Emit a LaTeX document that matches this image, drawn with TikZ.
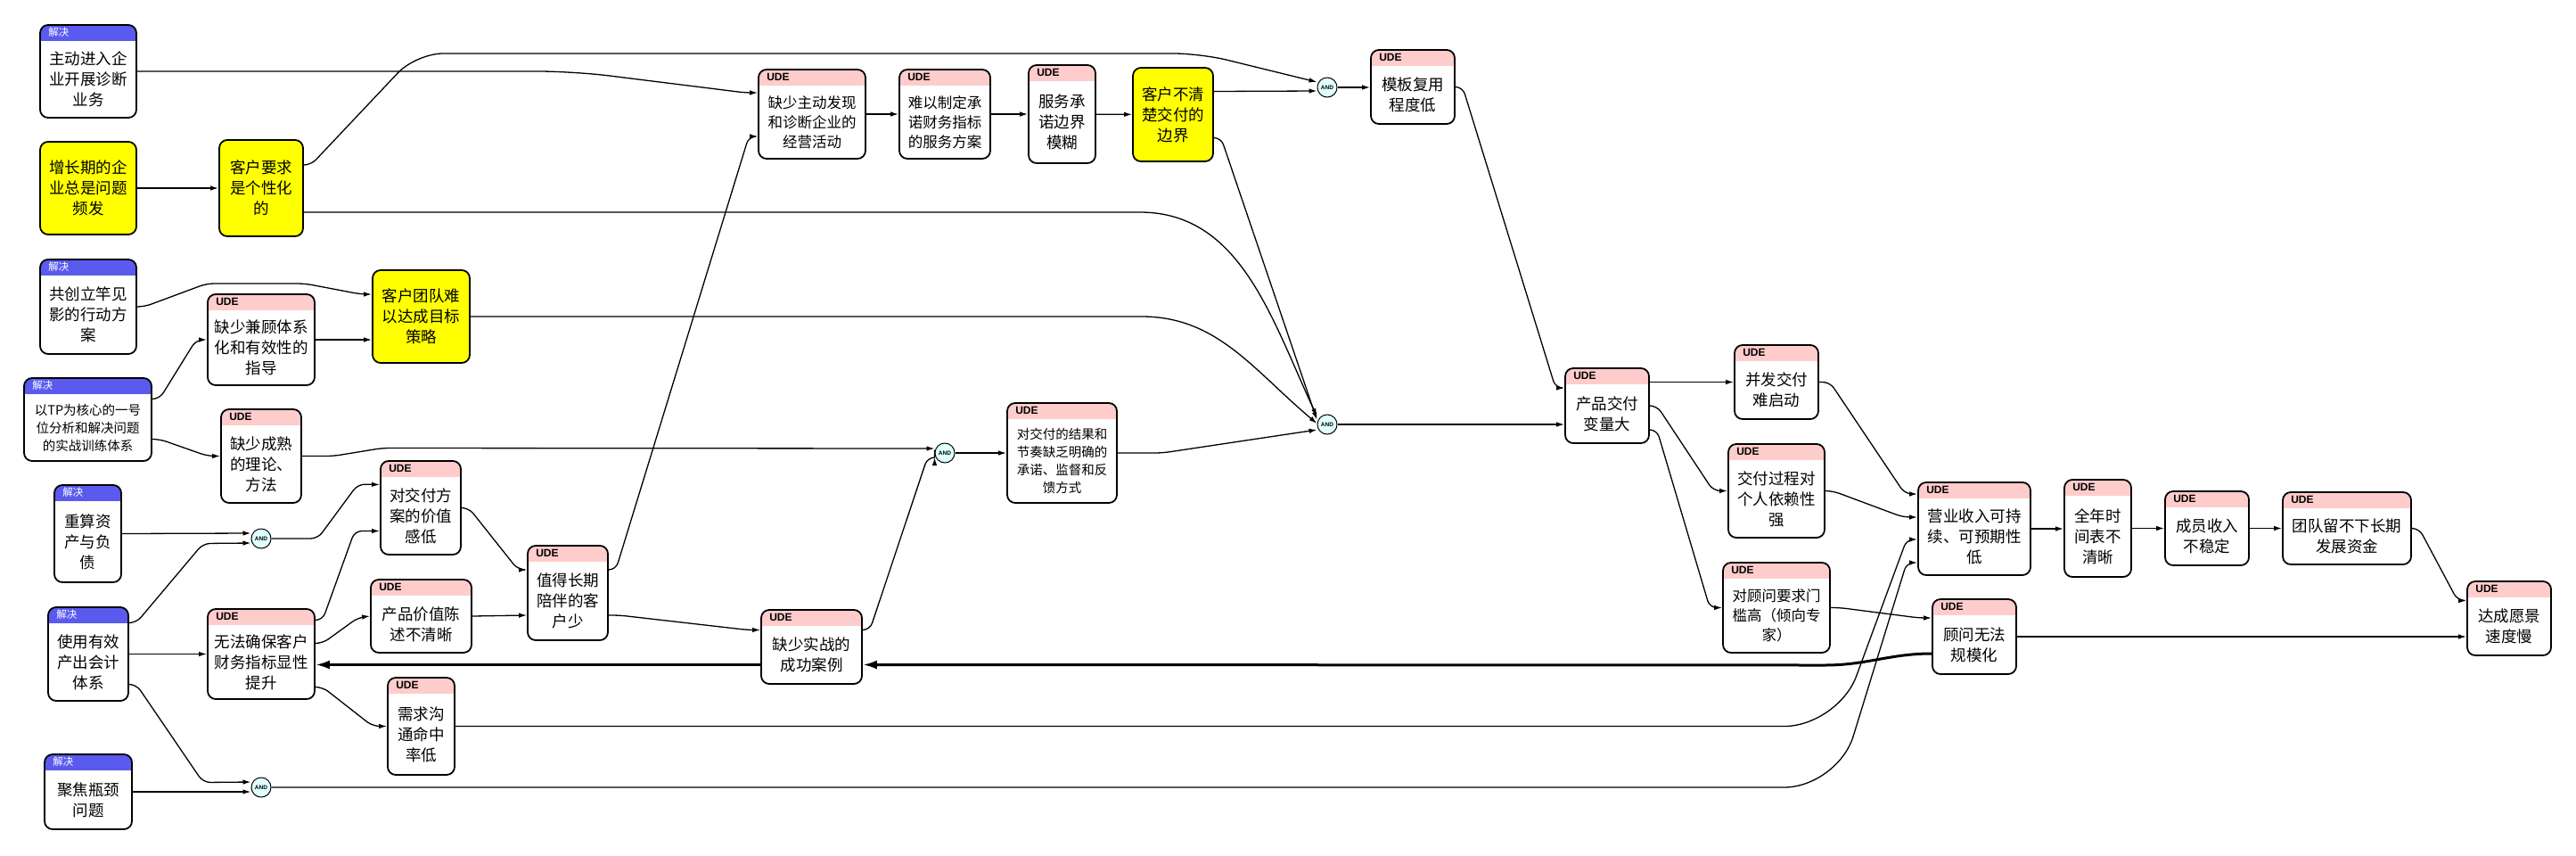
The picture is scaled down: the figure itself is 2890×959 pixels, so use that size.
\documentclass[tikz,border=0pt]{standalone}
\usepackage{fontspec}
\setmainfont{Noto Sans CJK SC}
\newfontfamily\hdrfont{Liberation Sans}
\usetikzlibrary{arrows.meta}

\definecolor{udehead}{RGB}{255,204,204}
\definecolor{solhead}{RGB}{90,90,238}
\definecolor{wantfill}{RGB}{255,255,0}
\definecolor{gatefill}{RGB}{224,255,255}

\newcommand{\bodyfont}{\fontsize{17.5}{23}\selectfont}
\newcommand{\midbody}{\fontsize{16.5}{22}\selectfont}
\newcommand{\smallbody}{\fontsize{14.5}{20}\selectfont}

\tikzset{
  box/.style={draw, line width=1.8pt, rounded corners=9pt, fill=white, inner sep=0pt},
  ude/.style={box, path picture={\fill[udehead, sharp corners] (path picture bounding box.north west) rectangle ([yshift=-18pt]path picture bounding box.north east);}},
  sol/.style={box, path picture={\fill[solhead, sharp corners] (path picture bounding box.north west) rectangle ([yshift=-18pt]path picture bounding box.north east);}},
  ude tag/.style={anchor=west, inner sep=0pt, font=\hdrfont\bfseries\fontsize{12}{13}\selectfont},
  sol tag/.style={anchor=west, inner sep=0pt, text=white, font=\fontsize{11.5}{12}\selectfont},
  want/.style={box, fill=wantfill, align=center, font=\bodyfont},
  bodytext/.style={align=center, font=\bodyfont, inner sep=0pt},
  gate/.style={circle, draw, line width=1pt, fill=gatefill, minimum size=22pt, inner sep=0pt, font=\hdrfont\bfseries\fontsize{6.5}{7}\selectfont},
  arr/.style={-{Latex[length=9pt,width=5.5pt]}, line width=1.3pt, rounded corners=8pt},
  backarr/.style={-{Latex[length=16pt,width=10pt]}, line width=3pt}
}

% box with a coloured header: [text style]{kind}{tag}{name}{centre}{width}{height}{text}
\newcommand{\tocbox}[8][]{%
  \node[#2, minimum width=#6, minimum height=#7] (#4) at (#5) {};
  \node[#2 tag] (#4-h) at ([xshift=10pt,yshift=-9pt]#4.north west) {#3};
  \node[bodytext,#1] (#4-t) at ([yshift=-9pt]#4.center) {#8};}

\begin{document}
\begin{tikzpicture}[x=1pt, y=-1pt]
    \useasboundingbox (0,0) rectangle (2890,959);

    % Solutions on the left
    \tocbox{sol}{解决}{diagnose}{99,80}{108}{104}{主动进入企\\业开展诊断\\业务}
    \tocbox{sol}{解决}{coplan}{99,344}{108}{106}{共创立竿见\\影的行动方\\案}
    \tocbox[font=\smallbody]{sol}{解决}{tptrain}{98.5,470.5}{143}{93}{以TP为核心的一号\\位分析和解决问题\\的实战训练体系}
    \tocbox{sol}{解决}{balance}{98.5,598.5}{75}{109}{重算资\\产与负\\债}
    \tocbox{sol}{解决}{tacct}{99,733.5}{90}{105}{使用有效\\产出会计\\体系}
    \tocbox{sol}{解决}{bottleneck}{99,888}{98}{84}{聚焦瓶颈\\问题}

    % Yellow facts
    \node[want, minimum width=108, minimum height=104] (growth) at (99,211) {增长期的企\\业总是问题\\频发};
    \node[want, minimum width=94, minimum height=108] (custom) at (293,211) {客户要求\\是个性化\\的};
    \node[want, minimum width=109, minimum height=104] (teamgoal) at (472.5,355) {客户团队难\\以达成目标\\策略};
    \node[want, minimum width=90, minimum height=105] (boundary) at (1316,128.5) {客户不清\\楚交付的\\边界};

    % UDE boxes
    \tocbox{ude}{UDE}{guide}{293,381}{120}{102}{缺少兼顾体系\\化和有效性的\\指导}
    \tocbox{ude}{UDE}{theory}{293,511.5}{90}{105}{缺少成熟\\的理论、\\方法}
    \tocbox{ude}{UDE}{valuelow}{472,569.5}{90}{105}{对交付方\\案的价值\\感低}
    \tocbox{ude}{UDE}{pitch}{472.5,691}{113}{82}{产品价值陈\\述不清晰}
    \tocbox{ude}{UDE}{finance}{293,733.5}{120}{101}{无法确保客户\\财务指标显性\\提升}
    \tocbox{ude}{UDE}{demand}{472.5,814.5}{75}{109}{需求沟\\通命中\\率低}
    \tocbox{ude}{UDE}{longterm}{637,665}{90}{106}{值得长期\\陪伴的客\\户少}
    \tocbox{ude}{UDE}{cases}{910.5,725.5}{113}{83}{缺少实战的\\成功案例}
    \tocbox[font=\midbody]{ude}{UDE}{discover}{911,128}{120}{100}{缺少主动发现\\和诊断企业的\\经营活动}
    \tocbox[font=\midbody]{ude}{UDE}{commit}{1060,128}{102}{100}{难以制定承\\诺财务指标\\的服务方案}
    \tocbox{ude}{UDE}{scope}{1191.5,128}{75}{110}{服务承\\诺边界\\模糊}
    \tocbox{ude}{UDE}{reuse}{1585,97.5}{94}{83}{模板复用\\程度低}
    \tocbox[font=\smallbody]{ude}{UDE}{feedback}{1191.5,508}{123}{112}{对交付的结果和\\节奏缺乏明确的\\承诺、监督和反\\馈方式}
    \tocbox{ude}{UDE}{variance}{1803,455}{94}{84}{产品交付\\变量大}
    \tocbox{ude}{UDE}{parallel}{1993,428.5}{94}{83}{并发交付\\难启动}
    \tocbox{ude}{UDE}{reliance}{1993,550.5}{108}{105}{交付过程对\\个人依赖性\\强}
    \tocbox[font=\midbody]{ude}{UDE}{expert}{1993,681.5}{120}{101}{对顾问要求门\\槛高（倾向专\\家）}
    \tocbox{ude}{UDE}{revenue}{2215,593}{126}{104}{营业收入可持\\续、可预期性\\低}
    \tocbox{ude}{UDE}{scale}{2215,714}{94}{84}{顾问无法\\规模化}
    \tocbox{ude}{UDE}{schedule}{2353.5,592.5}{75}{109}{全年时\\间表不\\清晰}
    \tocbox{ude}{UDE}{income}{2476,592.5}{94}{83}{成员收入\\不稳定}
    \tocbox{ude}{UDE}{funds}{2633,592.5}{144}{81}{团队留不下长期\\发展资金}
    \tocbox{ude}{UDE}{vision}{2815,693.5}{94}{83}{达成愿景\\速度慢}

    % AND gates
    \node[gate] (andA) at (293,604) {AND};
    \node[gate] (andB) at (293,883) {AND};
    \node[gate] (andC) at (1489,98) {AND};
    \node[gate] (andD) at (1489,476) {AND};
    \node[gate] (andE) at (1060,508) {AND};

    % Links from the left column
    \draw[arr] (diagnose.east) [rounded corners=40pt] -- ++(490,0) [rounded corners=8pt] -- ([xshift=-14pt,yshift=24pt]discover.west) -- ([yshift=24pt]discover.west);
    \draw[arr] (growth.east) -- (custom.west);
    \draw[arr] ([yshift=26pt]custom.east) -- ++(8,0) [rounded corners=30pt] -- ++(118,-125) -- ++(880,0) -- ([yshift=6pt]andC.west);
    \draw[arr] ([yshift=-27pt]custom.east) -- ++(930,0) to[out=0,in=115] ([yshift=9pt]andD.west);
    \draw[arr] (coplan.east) -- ++(8,0) -- ++(70,-26) -- ++(110,0) -- ([xshift=-12pt,yshift=25pt]teamgoal.west) -- ([yshift=25pt]teamgoal.west);
    \draw[arr] (guide.east) -- (guide.east -| teamgoal.west);
    \draw[arr] ([yshift=23pt]tptrain.east) -- ++(8,0) -- ([xshift=-12pt]guide.west) -- (guide.west);
    \draw[arr] ([yshift=-22pt]tptrain.east) -- ++(8,0) -- ([xshift=-14pt]theory.west) -- (theory.west);
    \draw[arr] (teamgoal.east) -- ++(745,0) to[out=0,in=140] ([yshift=1pt]andD.west);
    \draw[arr] (theory.east) -- ++(35,0) -- ++(55,-9) -- ([yshift=5pt]andE.west);
    \draw[arr] (balance.east) -- ([yshift=6pt]andA.west);
    \draw[arr] ([yshift=35pt]tacct.east) -- ++(8,0) -- ++(75,-89) -- ([yshift=-5pt]andA.west);
    \draw[arr] (tacct.east) -- (finance.west);
    \draw[arr] ([yshift=-34pt]tacct.east) -- ++(8,0) -- ++(75,110) -- ([yshift=6pt]andB.west);
    \draw[arr] (bottleneck.east) -- ([yshift=-5pt]andB.west);

    % Middle links
    \draw[arr] (andA.east) -- ++(52,0) -- ++(45,-61) -- ([yshift=26pt]valuelow.west);
    \draw[arr] ([yshift=38pt]finance.east) -- ++(8,0) -- ++(36,-100) -- ([yshift=-26pt]valuelow.west);
    \draw[arr] ([yshift=12pt]finance.east) -- ++(8,0) -- ++(40,-29) -- (pitch.west);
    \draw[arr] ([yshift=-37pt]finance.east) -- ++(8,0) -- ([xshift=-16pt]demand.west) -- (demand.west);
    \draw[arr] (valuelow.east) -- ++(8,0) -- ([xshift=-10pt,yshift=26pt]longterm.west) -- ([yshift=26pt]longterm.west);
    \draw[arr] (pitch.east) -- ([yshift=-25pt]longterm.west);
    \draw[arr] ([yshift=26pt]longterm.east) -- ++(8,0) -- ([xshift=-10pt,yshift=-25pt]discover.west) -- ([yshift=-25pt]discover.west);
    \draw[arr] ([yshift=-25pt]longterm.east) -- ++(12,0) -- ([xshift=-14pt,yshift=19pt]cases.west) -- ([yshift=19pt]cases.west);
    \draw[arr] ([yshift=19pt]cases.east) -- ++(8,0) -- ([xshift=-8pt,yshift=-5pt]andE.west) -- ([yshift=-5pt]andE.west);
    \draw[arr] (andE) -- (feedback.west);
    \draw[arr] (feedback.east) -- ++(50,0) -- ([yshift=-6pt]andD.west);

    % Top chain
    \draw[arr] (discover) -- (commit);
    \draw[arr] (commit) -- (scope);
    \draw[arr] (scope) -- (boundary);
    \draw[arr] ([yshift=26pt]boundary.east) -- ([yshift=-4pt]andC.west);
    \draw[arr] ([yshift=-26pt]boundary.east) -- ++(8,0) -- ([yshift=5pt]andD.west);
    \draw[arr] (andC) -- (andC -| reuse.west);
    \draw[arr] (reuse.east) -- ++(8,0) -- ([xshift=-10pt,yshift=20pt]variance.west) -- ([yshift=20pt]variance.west);
    \draw[arr] (andD) -- (andD -| variance.west);

    % Right part
    \draw[arr] (parallel.west -| variance.east) -- (parallel.west);
    \draw[arr] (variance.east) -- ++(8,0) -- ([xshift=-16pt]reliance.west) -- (reliance.west);
    \draw[arr] ([yshift=-27pt]variance.east) -- ++(8,0) -- ([xshift=-14pt]expert.west) -- (expert.west);
    \draw[arr] (parallel.east) -- ++(12,0) -- ([xshift=-14pt,yshift=39pt]revenue.west) -- ([yshift=39pt]revenue.west);
    \draw[arr] (reliance.east) -- ++(8,0) -- ([xshift=-16pt,yshift=13pt]revenue.west) -- ([yshift=13pt]revenue.west);
    \draw[arr] (expert.east) -- ++(10,0) -- ([xshift=-14pt,yshift=21pt]scale.west) -- ([yshift=21pt]scale.west);
    \draw[arr] (demand.east) [rounded corners=60pt] -- ++(1551,0) [rounded corners=8pt] -- ([xshift=-12pt,yshift=-12pt]revenue.west) -- ([yshift=-12pt]revenue.west);
    \draw[arr] (andB.east) [rounded corners=60pt] -- ++(1757,0) [rounded corners=8pt] -- ([xshift=-12pt,yshift=-38pt]revenue.west) -- ([yshift=-38pt]revenue.west);
    \draw[arr] (revenue.east) -- (revenue.east -| schedule.west);
    \draw[arr] (schedule.east) -- (income.west);
    \draw[arr] (income.east) -- (funds.west);
    \draw[arr] (funds.east) -- ++(8,0) -- ([xshift=-10pt,yshift=20pt]vision.west) -- ([yshift=20pt]vision.west);
    \draw[arr] (scale.east) -- (scale.east -| vision.west);

    % Feedback loop back to the left
    \draw[backarr] ([yshift=-19pt]scale.west) to[out=180,in=0] ++(-120,13) -- ([yshift=-20pt]cases.east);
    \draw[backarr] ([yshift=-20pt]cases.west) -- ([yshift=-20pt]cases.west -| finance.east);
\end{tikzpicture}
\end{document}
